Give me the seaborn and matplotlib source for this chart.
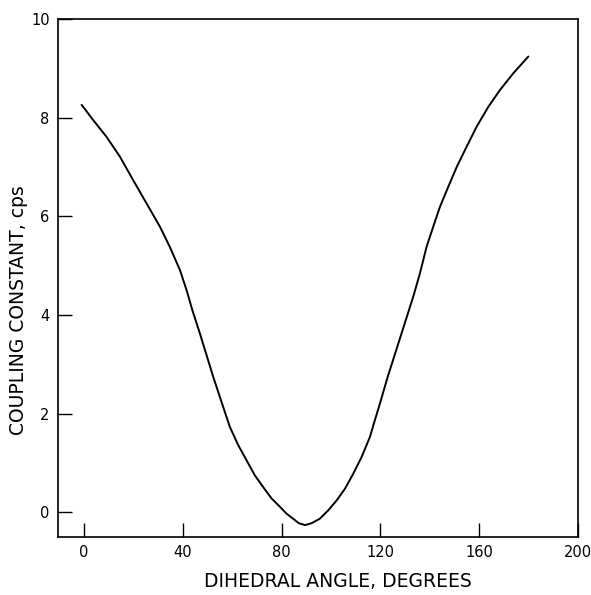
import matplotlib
matplotlib.use("Agg")
import matplotlib.pyplot as plt
import pandas as pd
import seaborn as sns

# points (dihedral angle in degrees, coupling constant in cps)
angle = [-0.9, 3.8, 9.2, 14.6, 20.0, 25.4, 30.8, 34.8, 38.9, 41.6, 43.9,
         47.0, 49.7, 52.4, 55.7, 59.1, 62.5, 65.9, 69.2, 72.6, 76.0,
         79.4, 82.1, 84.7, 87.0, 89.5, 92.2, 95.5, 98.9, 102.3, 105.7,
         109.0, 112.4, 115.8, 117.8, 119.8, 123.0, 126.5, 130.0, 133.3,
         136.0, 138.7, 141.4, 144.1, 147.5, 150.9, 154.9, 159.0, 163.7,
         168.4, 173.8, 179.9]
coupling = [8.26, 7.95, 7.61, 7.21, 6.73, 6.26, 5.79, 5.38, 4.91, 4.50, 4.10,
            3.62, 3.18, 2.74, 2.24, 1.73, 1.36, 1.05, 0.75, 0.51, 0.28,
            0.11, -0.03, -0.13, -0.22, -0.26, -0.22, -0.13, 0.04, 0.24, 0.48,
            0.78, 1.12, 1.53, 1.87, 2.20, 2.75, 3.30, 3.85, 4.37,
            4.84, 5.38, 5.79, 6.19, 6.60, 7.00, 7.41, 7.82, 8.22,
            8.56, 8.90, 9.24]

x_ticks = [0, 40, 80, 120, 160, 200]
y_ticks = [0, 2, 4, 6, 8, 10]

sns.set_style("ticks")
plt.rcParams["font.family"] = ["DejaVu Sans"]
plt.rcParams["text.color"] = "black"
plt.rcParams["axes.labelcolor"] = "black"

df = pd.DataFrame({"angle": angle, "coupling": coupling})

fig = plt.figure(figsize=(5.91, 5.95), dpi=100)
ax = fig.add_axes([0.098, 0.0975, 0.88, 0.8705])

sns.lineplot(data=df, x="angle", y="coupling", color="black", linewidth=1.4,
             sort=False, ax=ax)

ax.set_xlim(-10.5, 200)
ax.set_ylim(-0.5, 10)
ax.set_xticks(x_ticks)
ax.set_yticks(y_ticks)
ax.tick_params(direction="in", length=10, width=1, colors="black",
               labelsize=10.5, pad=6)
for side in ["left", "bottom", "right", "top"]:
    ax.spines[side].set_visible(True)
    ax.spines[side].set_color("black")
    ax.spines[side].set_linewidth(1.2)

ax.set_xlabel("")
ax.set_ylabel("")
fig.text(0.572, 0.022, "DIHEDRAL ANGLE, DEGREES", fontsize=13.5,
         ha="center", va="center", color="black")
fig.text(0.032, 0.479, "COUPLING CONSTANT, cps", fontsize=13.5, rotation=90,
         ha="center", va="center", color="black")

fig.savefig("out.png", dpi=100)
